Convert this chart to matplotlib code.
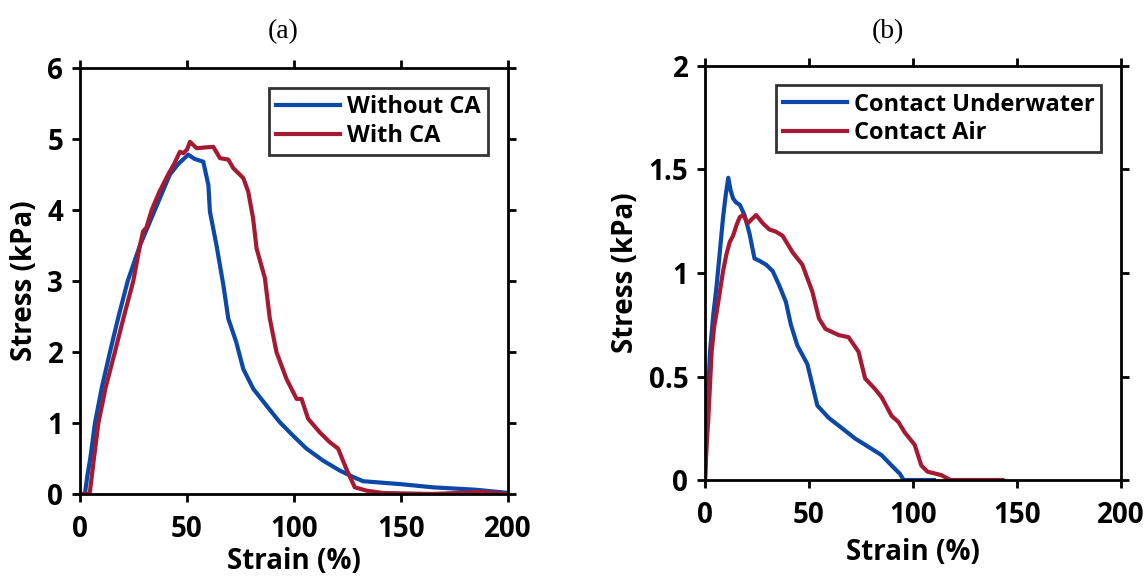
import matplotlib
matplotlib.use("Agg")
import matplotlib.pyplot as plt

# panel (a): stress-strain, with / without CA
strain_a_wo = [0, 2.3, 3.4, 4.8, 7.0, 10.2, 14.0, 18.0, 22.3, 28.0, 35.0, 38.5, 42.0, 46.0,
               50.6, 53.5, 57.6, 60.0, 60.7, 63.8, 67.0, 69.3, 73.0, 76.3, 81.0, 87.0, 93.4,
               99.6, 105.8, 113.6, 121.4, 127.6, 132.3, 149.4, 165.0, 185.0, 200.0]
stress_a_wo = [0, 0, 0.25, 0.5, 1.0, 1.5, 2.0, 2.5, 3.0, 3.5, 4.0, 4.25, 4.5, 4.65,
               4.78, 4.72, 4.68, 4.35, 3.98, 3.5, 2.94, 2.47, 2.14, 1.76, 1.48, 1.25, 1.01,
               0.82, 0.64, 0.47, 0.33, 0.24, 0.18, 0.14, 0.094, 0.06, 0.015]

strain_a_w = [0, 4.5, 5.5, 6.5, 8.6, 12.0, 16.3, 20.5, 24.9, 28.0, 29.5, 31.0, 33.5, 37.0,
              41.2, 44.0, 46.7, 48.2, 50.0, 51.4, 54.5, 58.0, 62.3, 65.4, 69.3, 71.6, 76.3,
              78.6, 80.9, 82.5, 86.4, 88.7, 91.8, 96.5, 101.2, 103.5, 106.6, 112.0, 116.7,
              120.6, 124.5, 128.4, 133.9, 141.6, 165.0, 188.0, 200.0]
stress_a_w = [0, 0, 0.25, 0.5, 1.0, 1.5, 2.0, 2.5, 3.0, 3.5, 3.7, 3.75, 4.0, 4.25,
              4.5, 4.65, 4.82, 4.80, 4.85, 4.96, 4.87, 4.88, 4.89, 4.73, 4.71, 4.59, 4.45,
              4.26, 3.88, 3.46, 3.04, 2.47, 2.0, 1.62, 1.34, 1.34, 1.06, 0.87, 0.73,
              0.64, 0.35, 0.094, 0.047, 0.014, 0.0, 0.03, 0.0]

# panel (b): contact underwater / contact air
strain_b_uw = [0, 1.2, 2.4, 4.0, 5.6, 7.2, 8.7, 10.0, 11.2, 12.3, 13.5, 15.0, 16.7, 19.0,
               21.4, 23.8, 26.0, 29.4, 32.5, 35.7, 38.9, 41.3, 44.4, 49.2, 51.6, 54.0,
               59.5, 65.9, 72.2, 78.6, 84.9, 89.7, 93.7, 95.5, 110.0]
stress_b_uw = [0, 0.35, 0.62, 0.80, 0.94, 1.11, 1.27, 1.38, 1.46, 1.40, 1.36, 1.34, 1.33,
               1.28, 1.19, 1.07, 1.06, 1.04, 1.01, 0.94, 0.86, 0.75, 0.65, 0.56, 0.46, 0.36,
               0.30, 0.25, 0.20, 0.16, 0.12, 0.07, 0.03, 0.0, 0.0]

strain_b_air = [0, 0.8, 1.6, 3.2, 4.4, 5.6, 7.0, 8.7, 10.3, 11.9, 13.5, 15.1, 16.7, 18.3,
                20.6, 22.5, 24.6, 27.8, 31.0, 34.0, 37.3, 42.1, 46.8, 51.6, 54.8, 57.9,
                64.3, 69.0, 73.8, 77.0, 81.7, 84.9, 89.7, 93.0, 96.0, 100.8, 104.0, 107.0,
                113.5, 118.0, 143.0]
stress_b_air = [0, 0.17, 0.30, 0.62, 0.74, 0.81, 0.90, 1.01, 1.09, 1.15, 1.18, 1.23, 1.27,
                1.28, 1.24, 1.26, 1.28, 1.24, 1.21, 1.20, 1.18, 1.10, 1.04, 0.91, 0.78,
                0.73, 0.70, 0.69, 0.62, 0.49, 0.44, 0.40, 0.31, 0.28, 0.23, 0.17, 0.07,
                0.04, 0.024, 0.0, 0.0]

blue = '#0b48a8'
red = '#a51a32'
sans = ['Open Sans', 'DejaVu Sans']
fs = 20
lw = 3.0

fig = plt.figure(figsize=(11.48, 5.77), dpi=100)
ax1 = fig.add_axes([80/1148, 1 - 494/577, 428/1148, 426/577])
ax2 = fig.add_axes([705/1148, 1 - 480/577, 416/1148, 414/577])

ax1.plot(strain_a_wo, stress_a_wo, color=blue, lw=lw, label='Without CA')
ax1.plot(strain_a_w, stress_a_w, color=red, lw=lw, label='With CA')
ax1.set_ylim(0, 6)
ax1.set_yticks([0, 1, 2, 3, 4, 5, 6])

ax2.plot(strain_b_uw, stress_b_uw, color=blue, lw=lw, label='Contact Underwater')
ax2.plot(strain_b_air, stress_b_air, color=red, lw=lw, label='Contact Air')
ax2.set_ylim(0, 2)
ax2.set_yticks([0, 0.5, 1, 1.5, 2])
ax2.set_yticklabels(['0', '0.5', '1', '1.5', '2'])

for ax, xpad in ((ax1, 2), (ax2, 6)):
    ax.set_xlim(0, 200)
    ax.set_xticks([0, 50, 100, 150, 200])
    for s in ax.spines.values():
        s.set_linewidth(2.0)
    ax.tick_params(axis='y', direction='out', length=6, width=2.0, left=True, right=True,
                   labelright=False, pad=6)
    ax.tick_params(axis='x', direction='out', length=6, width=2.0, bottom=True, top=True,
                   labeltop=False, pad=9)
    for lab in ax.get_xticklabels() + ax.get_yticklabels():
        lab.set_family(sans)
        lab.set_fontsize(fs)
        lab.set_fontweight('bold')
    ax.set_xlabel('Strain (%)', family=sans, fontsize=fs, fontweight='bold', labelpad=xpad)
    ax.set_ylabel('Stress (kPa)', family=sans, fontsize=fs, fontweight='bold', labelpad=6)
    leg = ax.legend(loc='upper right', bbox_to_anchor=(0.953, 0.953), borderaxespad=0,
                    fancybox=False, framealpha=1, edgecolor='#333333',
                    prop={'family': sans, 'size': 17, 'weight': 'bold'},
                    handlelength=2.7, handletextpad=0.3, labelspacing=0.2,
                    borderpad=0.3)
    leg.get_frame().set_linewidth(2.0)

fig.text(283/1148, 1 - 32/577, '(a)', family='Liberation Serif', fontsize=20,
         ha='center', va='center')
fig.text(888/1148, 1 - 32/577, '(b)', family='Liberation Serif', fontsize=20,
         ha='center', va='center')

fig.savefig('out.png', dpi=100)
